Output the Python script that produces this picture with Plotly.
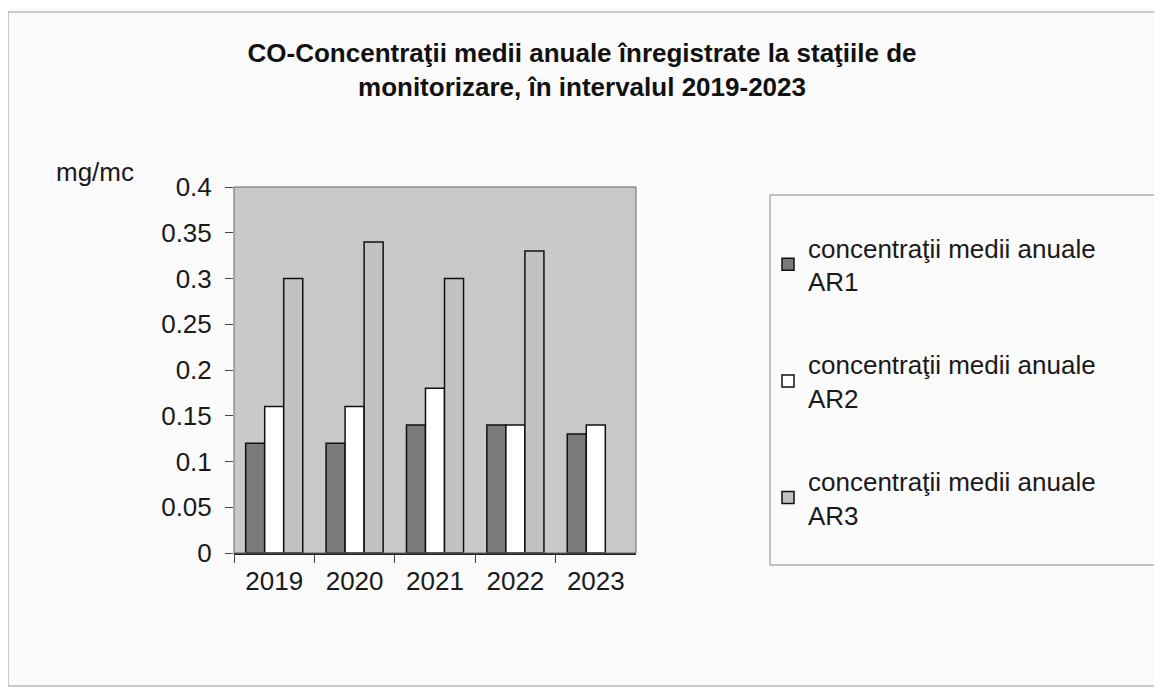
import plotly.graph_objects as go

years = ["2019", "2020", "2021", "2022", "2023"]
ar1 = [0.12, 0.12, 0.14, 0.14, 0.13]
ar2 = [0.16, 0.16, 0.18, 0.14, 0.14]
ar3 = [0.30, 0.34, 0.30, 0.33, None]
names = ["concentraţii medii anuale<br>AR1",
         "concentraţii medii anuale<br>AR2",
         "concentraţii medii anuale<br>AR3"]
colors = ["#7a7a7a", "#ffffff", "#c2c2c2"]
title = "CO-Concentraţii medii anuale înregistrate la staţiile de<br>monitorizare, în intervalul 2019-2023"

OFF = 8
W, H = 1162 - OFF, 688 - OFF


def px(x):
    return (x - OFF) / W


def py(y):
    return 1 - (y - OFF) / H


fig = go.Figure()
for i, (vals, nm, col) in enumerate(zip([ar1, ar2, ar3], names, colors)):
    fig.add_trace(go.Bar(x=years, y=vals, name=nm, legendgroup=f"g{i}",
                         marker=dict(color=col, line=dict(color="#111111", width=1.5))))

FONT = "Liberation Sans, Arial, sans-serif"
fig.update_layout(
    width=W, height=H,
    margin=dict(l=0, r=0, t=0, b=0),
    paper_bgcolor="#fbfbfb",
    plot_bgcolor="#c9c9c9",
    font=dict(family=FONT, color="#1a1a1a"),
    barmode="group", bargap=0.29, bargroupgap=0,
    showlegend=True,
    legend=dict(x=px(768), y=py(224), xanchor="left", yanchor="top",
                bgcolor="rgba(0,0,0,0)", borderwidth=0,
                font=dict(size=26, family=FONT, color="#1a1a1a"),
                tracegroupgap=46, itemwidth=30),
    xaxis=dict(domain=[px(234), px(636)], showgrid=False, ticks="outside",
               tickson="boundaries", ticklen=8, tickcolor="#444",
               showline=True, linecolor="#222", linewidth=1.5,
               tickfont=dict(size=26), automargin=False, mirror=False,
               ticklabelstandoff=4),
    yaxis=dict(domain=[py(553), py(187)], range=[0, 0.4], dtick=0.05,
               showgrid=False, ticks="outside", ticklen=8, tickcolor="#444",
               showline=False, tickfont=dict(size=26), automargin=False,
               tickformat="~g", zeroline=False, ticklabelstandoff=8),
    title=dict(text=title, x=px(582), xanchor="center", y=py(62), yanchor="top",
               font=dict(size=26, family=FONT, color="#111111", weight="bold")),
    shapes=[
        dict(type="rect", xref="paper", yref="paper", x0=px(8), x1=px(1160),
             y0=py(686), y1=py(12), line=dict(color="#999999", width=1)),
        dict(type="rect", xref="paper", yref="paper", x0=px(234), x1=px(636),
             y0=py(553), y1=py(187), line=dict(color="#666666", width=1)),
        dict(type="rect", xref="paper", yref="paper", x0=px(770), x1=px(1157),
             y0=py(565), y1=py(195), line=dict(color="#888888", width=1)),
    ],
    annotations=[
        dict(text="mg/mc", xref="paper", yref="paper", x=px(54), y=py(172),
             xanchor="left", yanchor="middle", showarrow=False,
             font=dict(size=26, family=FONT, color="#1a1a1a")),
    ],
)
fig.write_html("out.html")
